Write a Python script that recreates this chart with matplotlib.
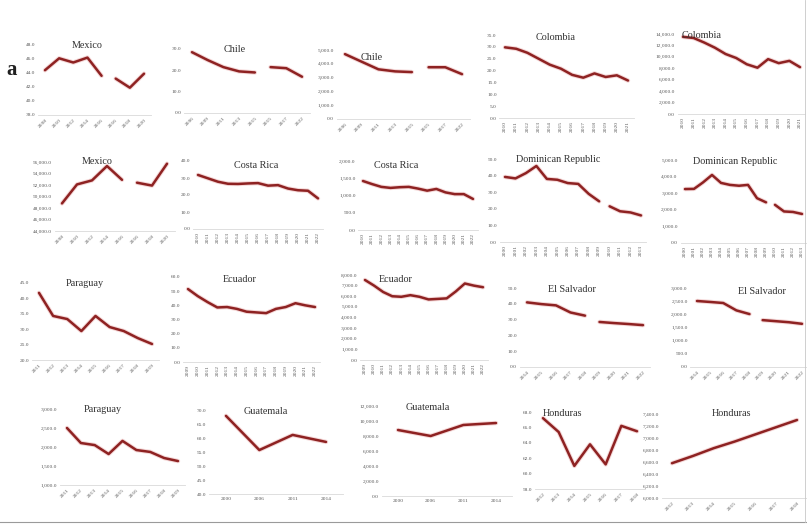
import matplotlib
matplotlib.use("Agg")
import matplotlib.pyplot as plt

W, H = 807, 526

# ---- values (percent of population / thousands of people) ----
mexico_years = ["2008", "2010", "2012", "2014", "2016", "2016", "2018", "2020"]
mexico_pct = [44.4, 46.1, 45.5, 46.2, 43.6, 43.2, 41.9, 43.9]
mexico_abs = [48800, 52100, 52800, 55300, 52900, 52400, 51900, 55700]

chile_years = ["2006", "2009", "2011", "2013", "2015", "2015", "2017", "2022"]
chile_pct = [28.5, 24.8, 21.5, 19.5, 19.0, 21.5, 21.0, 17.0]
chile_abs = [4700, 4150, 3600, 3450, 3400, 3750, 3750, 3250]

colombia_years = [str(y) for y in range(2010, 2022)]
colombia_pct = [29.8, 29.2, 27.5, 25.0, 22.5, 20.8, 18.2, 17.0, 18.8, 17.3, 18.0, 15.8]
colombia_abs = [13500, 13300, 12500, 11600, 10500, 9800, 8700, 8100, 9600, 8900, 9300, 8200]

costa_years = [str(y) for y in range(2010, 2023)]
costa_pct = [31.8, 29.8, 27.8, 26.6, 26.5, 26.8, 27.0, 25.5, 25.8, 23.8, 22.8, 22.5, 18.0]
costa_abs = [1420, 1330, 1250, 1220, 1240, 1250, 1200, 1140, 1190, 1090, 1040, 1040, 900]

dr_years = [str(y) for y in range(2000, 2014)]
dr_pct = [39.2, 38.3, 41.5, 45.8, 38.0, 37.5, 35.5, 35.0, 29.0, 24.5, 21.5, 18.5, 17.8, 16.0]
dr_abs = [3250, 3260, 3650, 4100, 3620, 3500, 3450, 3500, 2700, 2450, 2300, 1900, 1870, 1750]

paraguay_years = [str(y) for y in range(2011, 2020)]
paraguay_pct = [41.8, 34.3, 33.3, 29.4, 34.3, 30.7, 29.4, 27.1, 25.2]
paraguay_abs = [2500, 2105, 2050, 1815, 2160, 1920, 1870, 1710, 1630]

ecuador_years = [str(y) for y in range(2009, 2023)]
ecuador_pct = [51.5, 46.5, 42.3, 38.5, 38.8, 37.5, 35.5, 35.0, 34.5, 37.5, 38.8, 41.5, 40.0, 38.8]
ecuador_abs = [7530, 7000, 6400, 6000, 5950, 6100, 5950, 5700, 5750, 5800, 6450, 7200, 7000, 6850]

salvador_years = [str(y) for y in range(2014, 2023)]
salvador_pct = [40.9, 39.8, 39.0, 34.5, 32.5, 28.5, 27.8, 27.2, 26.5]
salvador_abs = [2506, 2470, 2430, 2150, 2010, 1780, 1740, 1700, 1640]

guatemala_years = ["2000", "2006", "2011", "2014"]
guatemala_pct = [67.9, 55.7, 61.1, 58.6]
guatemala_abs = [8800, 8000, 9470, 9730]

honduras_years = [str(y) for y in range(2012, 2019)]
honduras_pct = [67.2, 65.4, 61.0, 63.8, 61.2, 66.2, 65.5]
honduras_abs = [6580, 6700, 6830, 6940, 7060, 7180, 7300]

# series breaks (index where the second segment starts)
mexico_break = 5
chile_break = 5
dr_break = 10
salvador_break = 5

LINE = "#8e2222"
GLOW = "#eab0b0"
TXT = "#555555"


def fx(x):
    return x / W


def fy(y):
    return 1 - y / H


def panel(title, labels, vals, xpix, ypix, yr, rot, title_xy, brk=None):
    n = len(vals)
    x0, x1 = xpix
    dx = (x1 - x0) / (n - 1)
    left, right = x0 - dx / 2, x1 + dx / 2
    top, bot = ypix
    ax = plt.gcf().add_axes([fx(left), fy(bot), (right - left) / W, (bot - top) / H])
    xs = list(range(n))
    segs = [(0, n)] if brk is None else [(0, brk), (brk, n)]
    for a, b in segs:
        ax.plot(xs[a:b], vals[a:b], color=GLOW, lw=3.2, alpha=0.5, solid_capstyle="round", clip_on=False)
        ax.plot(xs[a:b], vals[a:b], color=LINE, lw=1.8, solid_capstyle="round", clip_on=False)
    lo, hi, step = yr
    ax.set_xlim(-0.5, n - 0.5)
    ax.set_ylim(lo, hi)
    ticks = []
    v = lo
    while v <= hi + 1e-9:
        ticks.append(v)
        v += step
    ax.set_yticks(ticks)
    ax.set_yticklabels([f"{t:,.1f}" for t in ticks])
    ax.set_xticks(xs)
    if rot == 45:
        ax.set_xticklabels(labels, rotation=45, ha="right", rotation_mode="anchor")
    elif rot == 90:
        ax.set_xticklabels(labels, rotation=90, ha="center", va="top")
    else:
        ax.set_xticklabels(labels)
    ax.tick_params(length=0, labelsize=3.9, colors=TXT, pad=2)
    for s in ("top", "right", "left"):
        ax.spines[s].set_visible(False)
    ax.spines["bottom"].set_color("#d9d9d9")
    ax.spines["bottom"].set_linewidth(0.6)
    ax.patch.set_alpha(0)
    plt.gcf().text(fx(title_xy[0]), fy(title_xy[1]), title, ha="center", va="center",
                   fontsize=7.3, color="#303030")
    return ax


plt.rcParams["font.family"] = ["Liberation Serif", "DejaVu Serif"]
fig = plt.figure(figsize=(W / 100, H / 100), dpi=100)

# row 1
panel("Mexico", mexico_years, mexico_pct, (45, 144), (45, 115), (38, 48, 2), 45, (87, 46), mexico_break)
panel("Chile", chile_years, chile_pct, (192, 302), (49, 113), (0, 30, 10), 45, (235, 50), chile_break)
panel("Chile", chile_years, chile_abs, (345, 462), (50, 119), (0, 5000, 1000), 45, (372, 58), chile_break)
panel("Colombia", colombia_years, colombia_pct, (505, 628), (35, 118), (0, 35, 5), 90, (556, 37))
panel("Colombia", colombia_years, colombia_abs, (683, 800), (34, 114), (0, 14000, 2000), 90, (702, 36))
# row 2
panel("Mexico", mexico_years, mexico_abs, (62, 167), (162, 231), (44000, 56000, 2000), 45, (97, 161), mexico_break)
panel("Costa Rica", costa_years, costa_pct, (198, 318), (161, 229), (0, 40, 10), 90, (256, 166))
panel("Costa Rica", costa_years, costa_abs, (363, 473), (161, 230), (0, 2000, 500), 90, (396, 165))
panel("Dominican Republic", dr_years, dr_pct, (505, 641), (159, 242), (0, 50, 10), 90, (558, 159), dr_break)
panel("Dominican Republic", dr_years, dr_abs, (685, 802), (160, 243), (0, 5000, 1000), 90, (735, 161), dr_break)
# row 3
panel("Paraguay", paraguay_years, paraguay_pct, (39, 152), (283, 360), (20, 45, 5), 45, (85, 284))
panel("Ecuador", ecuador_years, ecuador_pct, (188, 315), (277, 362), (0, 60, 10), 90, (240, 279))
panel("Ecuador", ecuador_years, ecuador_abs, (365, 483), (275, 360), (0, 8000, 1000), 90, (396, 279))
panel("El Salvador", salvador_years, salvador_pct, (527, 643), (288, 367), (0, 50, 10), 45, (572, 290), salvador_break)
panel("El Salvador", salvador_years, salvador_abs, (697, 802), (288, 367), (0, 3000, 500), 45, (762, 291), salvador_break)
# row 4
panel("Paraguay", paraguay_years, paraguay_abs, (67, 178), (409, 485), (1000, 3000, 500), 45, (103, 410))
panel("Guatemala", guatemala_years, guatemala_pct, (226, 326), (410, 494), (40, 70, 5), 0, (266, 411))
panel("Guatemala", guatemala_years, guatemala_abs, (398, 496), (406, 496), (0, 12000, 2000), 0, (428, 408))
panel("Honduras", honduras_years, honduras_pct, (543, 637), (412, 489), (58, 68, 2), 45, (562, 413))
panel("Honduras", honduras_years, honduras_abs, (672, 797), (414, 498), (6000, 7400, 200), 45, (731, 414))

fig.text(fx(12), fy(70), "a", fontsize=15, fontweight="bold", ha="center", va="center", color="#202020")

# thin frame lines along the bottom and right edge of the scanned figure
fig.add_artist(plt.Line2D([0, 1], [fy(522), fy(522)], color="#9a9a9a", lw=0.8))
fig.add_artist(plt.Line2D([fx(805), fx(805)], [fy(522), 1], color="#c8c8c8", lw=0.6))

fig.savefig("out.png", dpi=100, facecolor="white")
